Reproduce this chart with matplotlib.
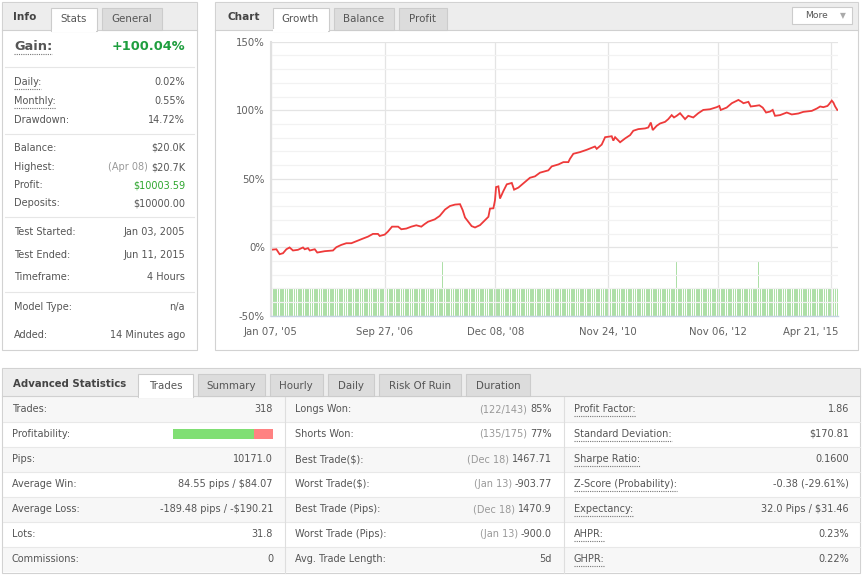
import matplotlib
matplotlib.use("Agg")
import matplotlib.pyplot as plt
from matplotlib.patches import Rectangle
from matplotlib.transforms import ScaledTranslation

plt.rcParams['font.family'] = ['DejaVu Sans']

# ---- growth curve (trade number -> growth %) ----
trade_no = [0, 3.3, 5.1, 7.0, 8.9, 10.7, 12.6, 15.4, 18.2, 19.2, 21.0, 22.0, 24.8, 26.2, 30.4,
            35.0, 36.9, 39.7, 42.5, 45.3, 48.1, 51.8, 54.6, 57.4, 60.2, 61.2, 64.0, 65.8, 68.1,
            71.5, 73.3, 76.1, 78.9, 81.7, 84.5, 86.4, 88.3, 92.0, 94.8, 97.8, 100.6, 103.4,
            106.2, 107.7, 109.0, 110.9, 112.7, 114.6, 117.4, 120.2, 122.1, 123.0, 124.9, 125.8,
            126.4, 127.7, 128.6, 130.5, 132.4, 135.2, 136.5, 138.9, 140.8, 142.6, 145.4, 148.2,
            151.0, 155.7, 157.6, 161.3, 164.1, 166.9, 167.8, 169.7, 173.4, 177.2, 181.8, 182.8,
            185.6, 187.5, 191.2, 192.1, 193.1, 195.9, 198.7, 201.5, 203.3, 206.1, 209.9, 211.7,
            213.1, 214.2, 216.4, 218.3, 221.1, 222.9, 224.8, 226.1, 227.6, 229.5, 232.3, 234.1,
            236.9, 239.7, 242.5, 246.3, 250.0, 251.5, 252.3, 255.6, 258.5, 262.2, 264.0, 265.0,
            267.8, 269.1, 271.5, 273.9, 275.8, 277.7, 279.9, 281.4, 282.7, 285.5, 289.3, 292.1,
            295.8, 298.6, 303.3, 306.1, 308.0, 309.8, 312.1, 313.0, 314.5, 315.4, 316.4, 317.6]
growth = [-1.9, -1.5, -5.1, -4.4, -1.5, -0.2, -2.4, -1.9, -0.2, -1.5, -0.7, -2.4, -1.5, -3.9, -2.9,
          -2.4, 0.0, 1.7, 2.9, 2.9, 4.4, 6.3, 7.7, 9.7, 9.7, 8.2, 9.2, 11.4, 15.0,
          15.0, 13.1, 13.6, 15.0, 16.0, 15.0, 16.9, 18.6, 20.3, 22.8, 27.5, 30.1, 31.1,
          31.4, 27.0, 21.7, 18.5, 15.4, 14.4, 16.1, 19.7, 22.2, 28.2, 28.4, 34.3,
          43.9, 44.4, 35.5, 41.0, 45.9, 46.9, 42.0, 43.5, 45.6, 47.6, 50.7, 51.7,
          54.4, 56.1, 59.0, 60.4, 62.1, 62.1, 64.5, 68.2, 69.4, 71.1, 73.5, 71.8,
          74.9, 80.3, 81.0, 77.8, 80.3, 76.6, 79.4, 81.8, 85.0, 86.2, 86.7, 87.4,
          91.0, 85.5, 88.6, 90.3, 91.5, 93.5, 96.4, 94.7, 95.9, 97.8, 93.5, 95.9,
          94.7, 97.8, 100.2, 100.7, 102.2, 103.1, 100.2, 101.9, 105.1, 107.5, 106.1, 105.1,
          106.1, 102.7, 103.1, 103.6, 101.9, 98.3, 99.0, 100.2, 95.9, 96.4, 98.3, 96.9,
          97.6, 98.8, 99.5, 101.2, 102.7, 102.2, 103.1, 104.4, 107.0, 105.6, 102.7, 100.2]

# ---- lots per trade (volume bars) ----
n_trades = 318
base_lot = 0.1
big_trades = [96, 227, 273]
big_lot = 0.2

tick_pos = [0, 64, 126, 189, 251, 314]
tick_labels = ["Jan 07, '05", "Sep 27, '06", "Dec 08, '08", "Nov 24, '10", "Nov 06, '12", "Apr 21, '15"]

# ---- info panel ----
gain_text = "+100.04%"
info_labels = ["Daily:", "Monthly:", "Drawdown:", "Balance:", "Highest:", "Profit:", "Deposits:",
               "Test Started:", "Test Ended:", "Timeframe:", "Model Type:", "Added:"]
info_values = ["0.02%", "0.55%", "14.72%", "$20.0K", "$20.7K", "$10003.59", "$10000.00",
               "Jan 03, 2005", "Jun 11, 2015", "4 Hours", "n/a", "14 Minutes ago"]
info_notes = ["", "", "", "", "(Apr 08)", "", "", "", "", "", "", ""]

# ---- advanced statistics ----
col1_labels = ["Trades:", "Profitability:", "Pips:", "Average Win:", "Average Loss:", "Lots:", "Commissions:"]
col1_values = ["318", "", "10171.0", "84.55 pips / $84.07", "-189.48 pips / -$190.21", "31.8", "0"]
col2_labels = ["Longs Won:", "Shorts Won:", "Best Trade($):", "Worst Trade($):", "Best Trade (Pips):",
               "Worst Trade (Pips):", "Avg. Trade Length:"]
col2_notes = ["(122/143)", "(135/175)", "(Dec 18)", "(Jan 13)", "(Dec 18)", "(Jan 13)", ""]
col2_values = ["85%", "77%", "1467.71", "-903.77", "1470.9", "-900.0", "5d"]
col3_labels = ["Profit Factor:", "Standard Deviation:", "Sharpe Ratio:", "Z-Score (Probability):",
               "Expectancy:", "AHPR:", "GHPR:"]
col3_values = ["1.86", "$170.81", "0.1600", "-0.38 (-29.61%)", "32.0 Pips / $31.46", "0.23%", "0.22%"]
won_trades = 122 + 135

TXT = '#555555'
GREY = '#999999'
FS = 7

fig = plt.figure(figsize=(8.64, 5.76), dpi=100)
bg = fig.add_axes([0, 0, 1, 1])
bg.set_xlim(0, 864)
bg.set_ylim(576, 0)
bg.axis('off')
renderer = fig.canvas.get_renderer()


def panel(x0, y0, x1, y1):
    bg.add_patch(Rectangle((x0 + 1, y0 + 1), x1 - x0, y1 - y0, fc='#e2e2e2', ec='none'))
    bg.add_patch(Rectangle((x0, y0), x1 - x0, y1 - y0, fc='white', ec='#d2d2d2', lw=0.8))
    bg.add_patch(Rectangle((x0 + 0.5, y0 + 0.5), x1 - x0 - 1, 27, fc='#ededed', ec='none'))
    bg.plot([x0, x1], [y0 + 27.5, y0 + 27.5], color='#d0d0d0', lw=0.8)


def tab(x0, x1, y0, y1, label, active):
    fc = 'white' if active else '#dcdcdc'
    bg.add_patch(Rectangle((x0, y0), x1 - x0, y1 - y0 + (1 if active else 0), fc=fc,
                           ec='#cccccc', lw=0.8, zorder=3))
    if active:
        bg.add_patch(Rectangle((x0 + 0.5, y1 - 1), x1 - x0 - 1, 3, fc='white', ec='none', zorder=4))
    bg.text((x0 + x1) / 2, (y0 + y1) / 2 + 1, label, ha='center', va='center', fontsize=FS + 0.4,
            color=TXT, zorder=5)


def label(x, y, s, underline=False, **kw):
    kw.setdefault('fontsize', FS)
    kw.setdefault('color', TXT)
    t = bg.text(x, y, s, ha='left', va='center', **kw)
    if underline:
        w = t.get_window_extent(renderer).width
        bg.plot([x, x + w], [y + 7, y + 7], color='#777777', lw=0.8, ls=(0, (1, 1)))
    return t


def rvalue(x, y, s, note='', color=TXT, **kw):
    kw.setdefault('fontsize', FS)
    t = bg.text(x, y, s, ha='right', va='center', color=color, **kw)
    if note:
        w = t.get_window_extent(renderer).width
        bg.text(x - w - 3, y, note, ha='right', va='center', color=GREY, fontsize=FS)


# ---------- info panel ----------
panel(2, 2, 197, 350)
bg.text(13, 17, "Info", fontsize=7.6, fontweight='bold', color='#444444', va='center')
tab(51, 96.5, 7.5, 29.5, "Stats", True)
tab(102, 162, 7.5, 29.5, "General", False)
label(14, 47, "Gain:", underline=True, fontsize=9.3, fontweight='bold')
rvalue(185, 47, gain_text, color='#1e9e3e', fontsize=9.3, fontweight='bold')
for sy in [67, 134, 217, 292]:
    bg.plot([5, 194], [sy, sy], color='#e6e6e6', lw=0.8)
info_y = [82, 101, 120, 148, 167, 185, 203, 232, 255, 277.5, 307, 335]
for i, (lab, val) in enumerate(zip(info_labels, info_values)):
    label(14, info_y[i], lab, underline=lab in ("Daily:", "Monthly:"))
    col = '#2ea62e' if lab == "Profit:" else TXT
    rvalue(185, info_y[i], val, note=info_notes[i], color=col)

# ---------- chart panel ----------
panel(215, 2, 858, 350)
bg.text(227, 17, "Chart", fontsize=7.6, fontweight='bold', color='#444444', va='center')
tab(272.5, 328.5, 7.5, 29.5, "Growth", True)
tab(334, 394, 7.5, 29.5, "Balance", False)
tab(399, 447, 7.5, 29.5, "Profit", False)
bg.add_patch(Rectangle((792, 7), 60, 16.5, fc='white', ec='#cccccc', lw=0.8, zorder=3))
bg.text(816, 15.5, "More", ha='center', va='center', fontsize=FS - 0.4, color=TXT, zorder=4)
bg.text(843, 15.5, "\u25bc", ha='center', va='center', fontsize=FS - 1.5, color='#aaaaaa', zorder=4)

ax2 = fig.add_axes([270.5 / 864, 1 - 315.7 / 576, 567.5 / 864, 274 / 576])
ax = fig.add_axes([270.5 / 864, 1 - 315.7 / 576, 567.5 / 864, 274 / 576])
ax.patch.set_visible(False)
ax2.patch.set_visible(False)

lots = [big_lot if i in big_trades else base_lot for i in range(n_trades)]
ax2.bar([i + 0.5 for i in range(n_trades)], lots, width=0.68, color='#addfa7', lw=0)
ax2.set_xlim(0, n_trades)
ax2.set_ylim(0, 1.0)
ax2.axis('off')

ax.plot(trade_no, growth, color='#ee3a3a', lw=1.3, solid_joinstyle='miter')
ax.set_xlim(0, n_trades)
ax.set_ylim(-50, 150)
ax.set_yticks(range(-50, 151, 50))
ax.set_yticks(range(-50, 151, 10), minor=True)
ax.set_yticklabels([f"{v}%" for v in range(-50, 151, 50)])
ax.set_xticks(tick_pos)
ax.set_xticklabels(tick_labels)
ax.grid(which='major', axis='both', color='#e4e4e4', lw=0.9)
ax.grid(which='minor', axis='y', color='#f2f2f2', lw=0.9)
ax.set_axisbelow(True)
ax.tick_params(which='both', length=0, labelsize=FS + 0.3, labelcolor='#606060')
ax.tick_params(axis='y', pad=4)
ax.tick_params(axis='x', pad=8)
for s in ax.spines.values():
    s.set_visible(False)
ax.spines['bottom'].set_visible(True)
ax.spines['bottom'].set_color('#c6d4e2')
ax.spines['bottom'].set_linewidth(1.0)
ax.spines['left'].set_visible(True)
ax.spines['left'].set_color('#e0e0e0')
ax.spines['left'].set_linewidth(1.5)
last = ax.get_xticklabels()[-1]
last.set_horizontalalignment('right')
last.set_transform(last.get_transform() + ScaledTranslation(7.5 / 100, 0, fig.dpi_scale_trans))

# ---------- advanced statistics ----------
panel(2, 368, 860, 573)
bg.text(12.7, 384, "Advanced Statistics", fontsize=7.3, fontweight='bold', color='#444444', va='center')
tabs = [(138, 193, "Trades"), (198, 265, "Summary"), (270, 322.7, "Hourly"), (328, 374, "Daily"),
        (379, 460.7, "Risk Of Ruin"), (466, 530, "Duration")]
for k, (x0, x1, name) in enumerate(tabs):
    tab(x0, x1, 374, 396, name, k == 0)

row_top = 396.5
for i in range(7):
    y0 = row_top + 25 * i
    if i % 2 == 0:
        bg.add_patch(Rectangle((2.5, y0), 857, 25, fc='#f7f7f7', ec='none'))
    if i > 0:
        bg.plot([2.5, 859.5], [y0, y0], color='#e8e8e8', lw=0.8)
for sx in [284.5, 563.5]:
    bg.plot([sx, sx], [row_top, 572.5], color='#dedede', lw=0.8)

for i in range(7):
    yc = row_top + 25 * i + 12.5
    label(12, yc, col1_labels[i])
    if col1_values[i]:
        rvalue(273, yc, col1_values[i])
    label(295, yc, col2_labels[i])
    rvalue(552, yc, col2_values[i], note=col2_notes[i])
    label(574, yc, col3_labels[i], underline=True)
    rvalue(849, yc, col3_values[i])

# profitability bar
py = row_top + 25 + 7.5
split = 173 + 100 * won_trades / n_trades
bg.add_patch(Rectangle((173, py), split - 173, 10, fc='#80df74', ec='none'))
bg.add_patch(Rectangle((split, py), 273 - split, 10, fc='#ff8282', ec='none'))

fig.savefig("out.png", dpi=100)
